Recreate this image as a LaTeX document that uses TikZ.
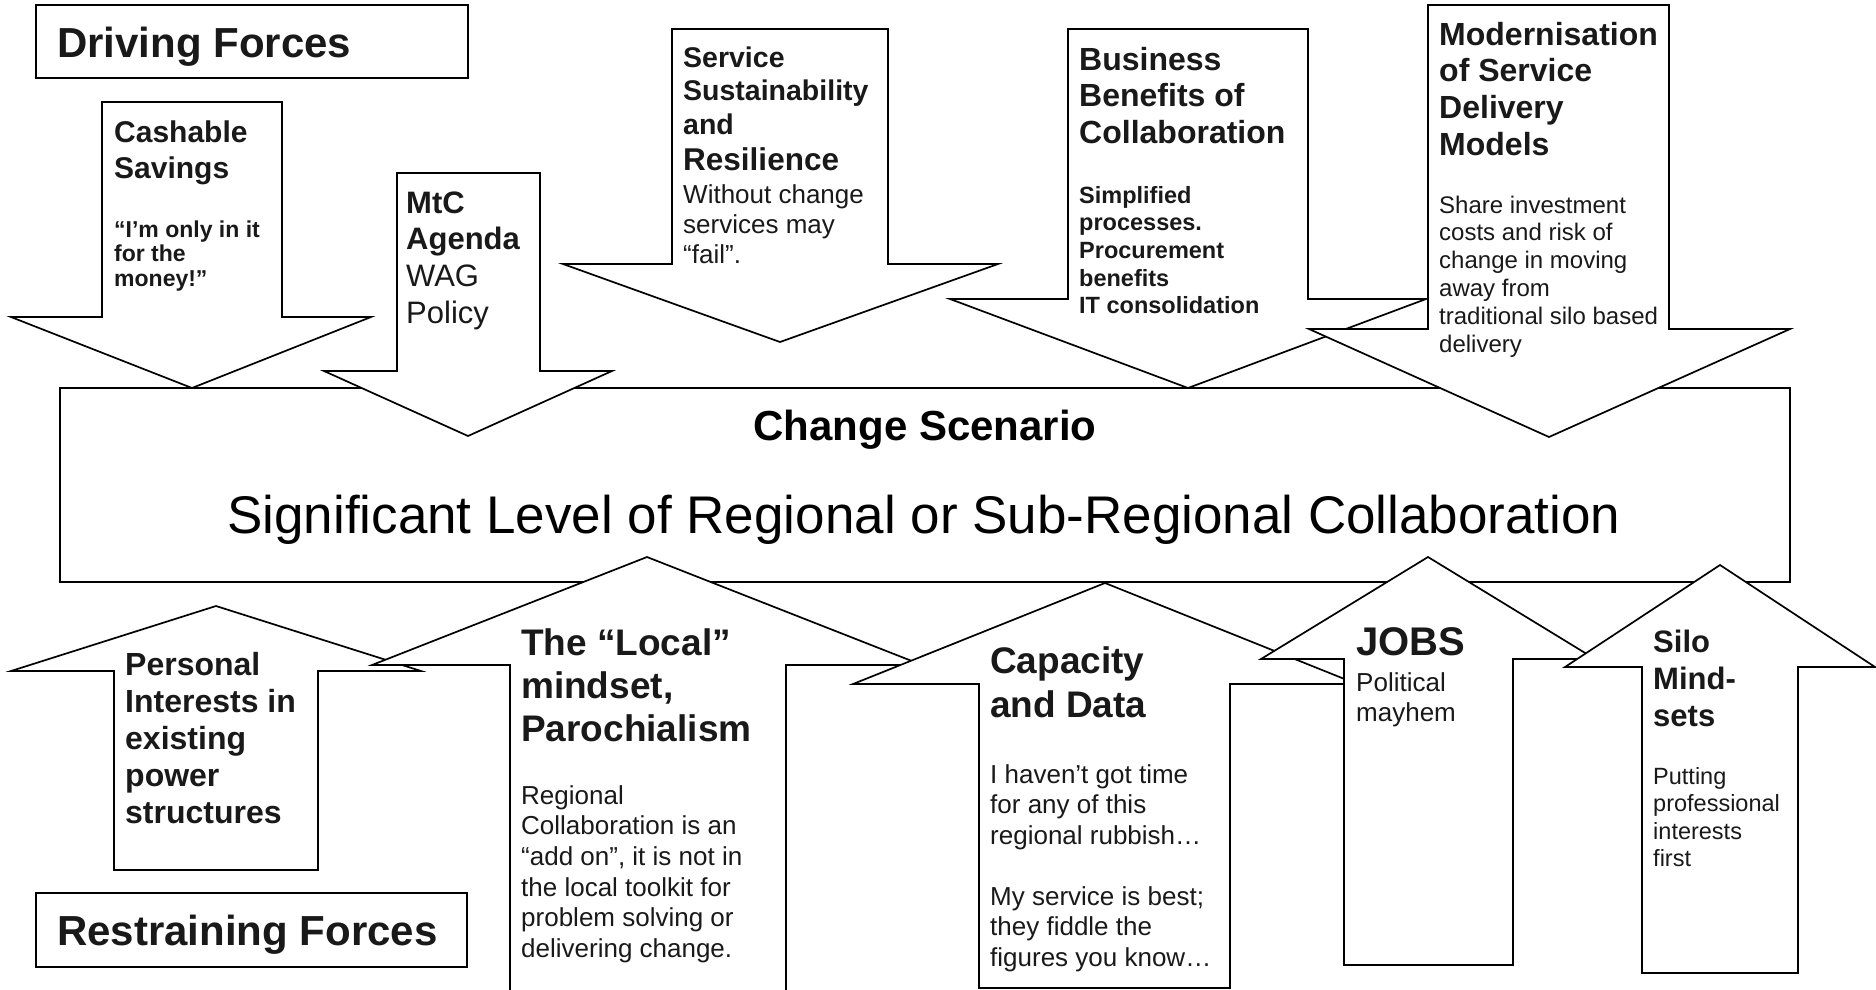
\documentclass[tikz,border=0pt]{standalone}
\usepackage{fontspec}
\setmainfont{Liberation Sans}
\newcommand\tlines[1]{\parbox[t]{420pt}{\raggedright #1}}
\newcommand\fs[2]{\fontsize{#1}{#2}\selectfont}
\begin{document}
\begin{tikzpicture}[x=1pt,y=-1pt,
  arr/.style={draw=black, fill=white, line width=1.7pt, line join=miter},
  bx/.style={draw=black, fill=white, line width=2pt},
  tx/.style={anchor=base west, inner sep=0pt, text=black!90}]
\useasboundingbox (0,0) rectangle (1876,989);
\clip (0,0) rectangle (1876,989);
\fill[white] (0,0) rectangle (1876,989);

% label boxes
\draw[bx] (36,5) rectangle (468,78);
\node[tx, font=\fs{42}{48}\bfseries] (drv) at (57,57) {Driving Forces};
\draw[bx] (36,893) rectangle (467,967);
\node[tx, font=\fs{42}{48}\bfseries] (rst) at (57,945) {Restraining Forces};

% central box
\draw[bx] (60,388) rectangle (1790,582);
\node[anchor=base, inner sep=0pt, font=\fs{42}{48}\bfseries] (cs) at (925,440) {Change Scenario};
\node[anchor=base, inner sep=0pt, font=\fs{53}{60}] (sig) at (924,533) {Significant Level of Regional or Sub-Regional Collaboration};

% ---------- driving forces (down arrows)
\draw[arr] (102,102) -- (282,102) -- (282,317) -- (371,317) -- (192,388) -- (11,317) -- (102,317) -- cycle;
\node[tx, font=\fs{30}{36}\bfseries] (cashT) at (114,142) {\tlines{Cashable\\Savings}};
\node[tx, font=\fs{23}{24.5}\bfseries] (cashB) at (114,237) {\tlines{“I’m only in it\\for the\\money!”}};

\draw[arr] (397,173) -- (540,173) -- (540,371) -- (612,371) -- (468,436) -- (324,371) -- (397,371) -- cycle;
\node[tx, font=\fs{31}{36.7}] (mtc) at (406,213) {\tlines{\bfseries MtC\\Agenda\\\mdseries WAG\\Policy}};

\draw[arr] (672,29) -- (888,29) -- (888,264) -- (998,264) -- (780,342) -- (563,264) -- (672,264) -- cycle;
\node[tx, font=\fs{28.5}{33.5}\bfseries] (servT) at (683,67) {\tlines{Service\\Sustainability\\and}};
\node[tx, font=\fs{31.5}{36}\bfseries] (servR) at (683,170) {Resilience};
\node[tx, font=\fs{26}{30}] (servB) at (683,203) {\tlines{Without change\\services may\\“fail”.}};

\draw[arr] (1068,29) -- (1308,29) -- (1308,299) -- (1426,299) -- (1188,388) -- (950,299) -- (1068,299) -- cycle;
\node[tx, font=\fs{32}{36.5}\bfseries] (busT) at (1079,70) {\tlines{Business\\Benefits of\\Collaboration}};
\node[tx, font=\fs{23.5}{27.7}\bfseries] (busB) at (1079,203) {\tlines{Simplified\\processes.\\Procurement\\benefits\\IT consolidation}};

\draw[arr] (1428,5) -- (1669,5) -- (1669,329) -- (1790,329) -- (1549,437) -- (1309,329) -- (1428,329) -- cycle;
\node[tx, font=\fs{32}{36.7}\bfseries] (modT) at (1439,45) {\tlines{Modernisation\\of Service\\Delivery\\Models}};
\node[tx, font=\fs{24}{27.8}] (modB) at (1439,213) {\tlines{Share investment\\costs and risk of\\change in moving\\away from\\traditional silo based\\delivery}};

% ---------- restraining forces (up arrows)
\draw[arr] (114,870) -- (318,870) -- (318,671) -- (421,671) -- (216,606) -- (11,671) -- (114,671) -- cycle;
\node[tx, font=\fs{32}{37}\bfseries] (pers) at (125,675) {\tlines{Personal\\Interests in\\existing\\power\\structures}};

\draw[arr] (510,995) -- (786,995) -- (786,665) -- (922,665) -- (647,557) -- (372,665) -- (510,665) -- cycle;
\node[tx, font=\fs{37}{43}\bfseries] (locT) at (521,655) {\tlines{The “Local”\\mindset,\\Parochialism}};
\node[tx, font=\fs{26}{30.7}] (locB) at (521,804) {\tlines{Regional\\Collaboration is an\\“add on”, it is not in\\the local toolkit for\\problem solving or\\delivering change.}};

\draw[arr] (979,988) -- (1230,988) -- (1230,684) -- (1357,684) -- (1105,583) -- (853,684) -- (979,684) -- cycle;
\node[tx, font=\fs{37}{44}\bfseries] (capT) at (990,673) {\tlines{Capacity\\and Data}};
\node[tx, font=\fs{26}{30.8}] (capB1) at (990,783) {\tlines{I haven’t got time\\for any of this\\regional rubbish…}};
\node[tx, font=\fs{26}{30.8}] (capB2) at (990,905) {\tlines{My service is best;\\they fiddle the\\figures you know…}};

\draw[arr] (1344,965) -- (1513,965) -- (1513,659) -- (1595,659) -- (1428,557) -- (1261,659) -- (1344,659) -- cycle;
\node[tx, font=\fs{40}{46}\bfseries] (jobs) at (1356,655) {JOBS};
\node[tx, font=\fs{26}{30}] (jobsB) at (1356,691) {\tlines{Political\\mayhem}};

\draw[arr] (1642,973) -- (1798,973) -- (1798,667) -- (1875,667) -- (1720,565) -- (1565,667) -- (1642,667) -- cycle;
\node[tx, font=\fs{31}{37}\bfseries] (siloT) at (1653,652) {\tlines{Silo\\Mind-\\sets}};
\node[tx, font=\fs{23.5}{27.5}] (siloB) at (1653,784) {\tlines{Putting\\professional\\interests\\first}};
\end{tikzpicture}
\end{document}
